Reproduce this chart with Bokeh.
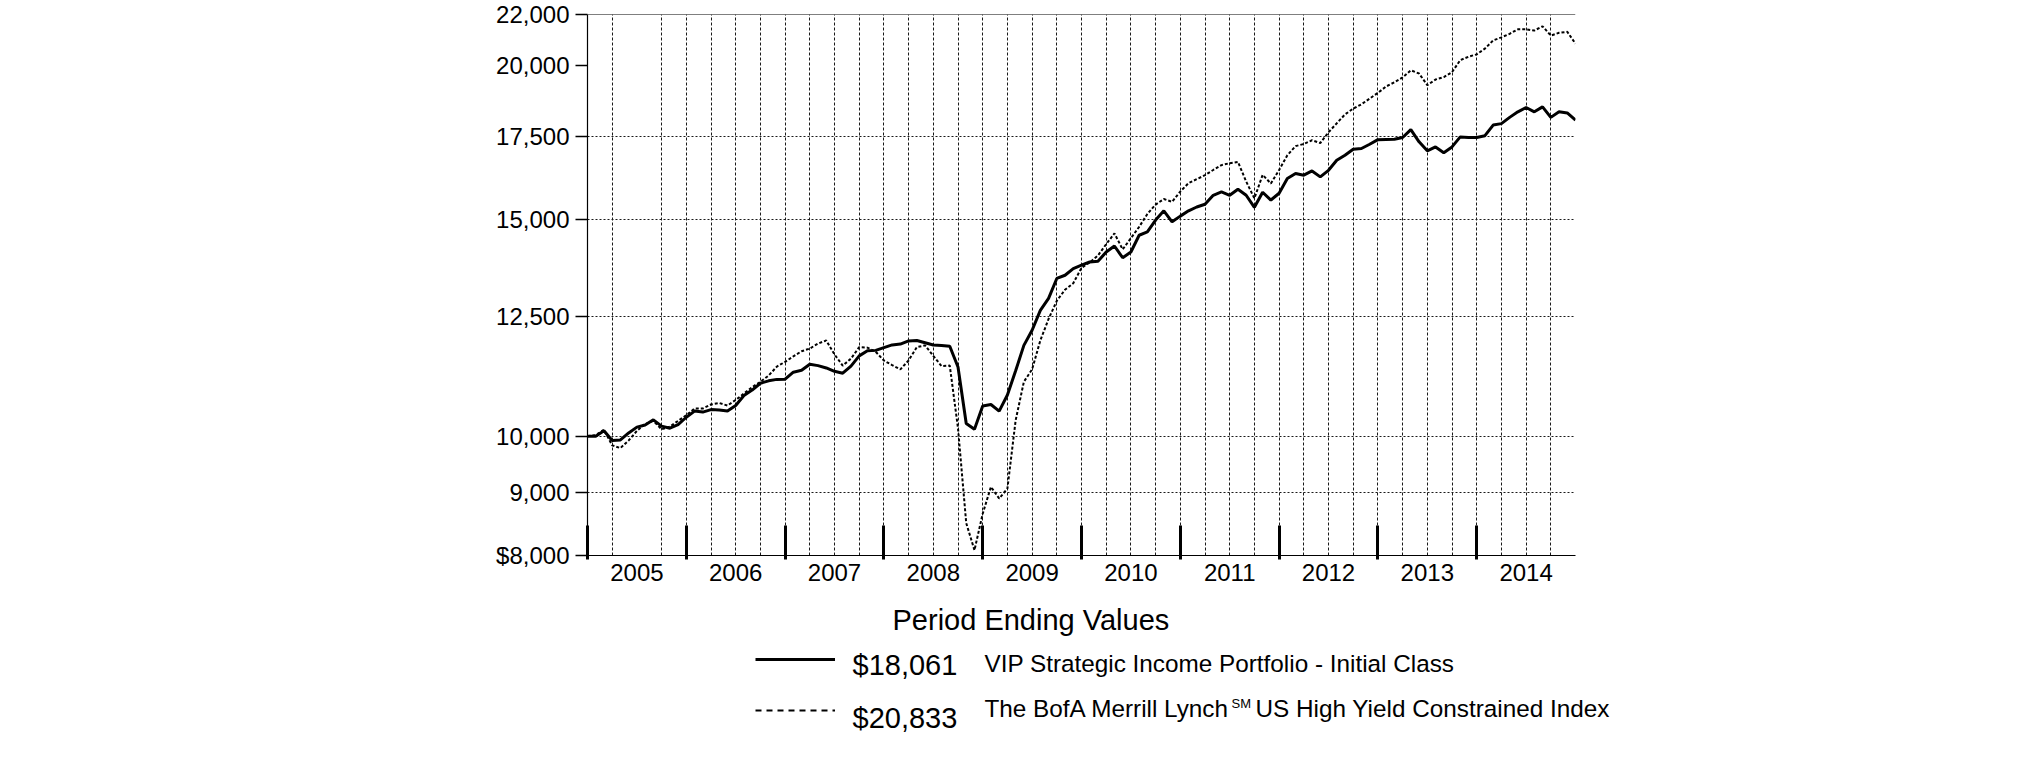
from bokeh.plotting import figure
from bokeh.layouts import column
from bokeh.models import (Range1d, FixedTicker, Span, Label, Legend, LegendItem)
from bokeh.embed import file_html
from bokeh.resources import INLINE

# ---------------- data (monthly period-ending values, Dec 2004 .. Dec 2014) ----------------
start_year = 2005
fund_name = "VIP Strategic Income Portfolio -  Initial Class"
index_name_a = "The BofA Merrill Lynch"
index_name_sup = "SM"
index_name_b = "US High Yield Constrained Index"
legend_title = "Period Ending Values"
fund_end_label = "$18,061"
index_end_label = "$20,833"

fund_values = [
    10000, 10000, 10100, 9920, 9930, 10060, 10170, 10210, 10310, 10190, 10150, 10220,
    10360, 10480, 10460, 10510, 10500, 10480, 10590, 10790, 10900, 11040, 11090, 11120,
    11125, 11270, 11310, 11440, 11410, 11360, 11290, 11250, 11400, 11620, 11730, 11740,
    11800, 11860, 11880, 11950, 11960, 11910, 11860, 11850, 11830, 11380, 10240, 10130,
    10580, 10610, 10480, 10800, 11300, 11850, 12190, 12650, 12940, 13430, 13510, 13680,
    13770, 13850, 13870, 14110, 14270, 13960, 14110, 14560, 14650, 14980, 15240, 14930,
    15090, 15240, 15350, 15430, 15690, 15790, 15690, 15870, 15690, 15340, 15780, 15550,
    15750, 16190, 16340, 16290, 16420, 16240, 16440, 16750, 16910, 17100, 17125, 17260,
    17410, 17415, 17420, 17480, 17740, 17340, 17050, 17175, 16990, 17175, 17500, 17480,
    17480, 17540, 17890, 17940, 18150, 18340, 18490, 18340, 18510, 18150, 18340, 18300,
    18061,
]

index_values = [
    10000, 10020, 10120, 9830, 9780, 9920, 10100, 10230, 10290, 10130, 10180, 10290,
    10400, 10530, 10530, 10610, 10640, 10590, 10700, 10830, 10960, 11070, 11200, 11390,
    11490, 11610, 11720, 11780, 11890, 11960, 11650, 11410, 11560, 11810, 11800, 11710,
    11520, 11420, 11330, 11520, 11810, 11850, 11620, 11400, 11410, 10150, 8500, 8080,
    8650, 9095, 8900, 9065, 10300, 11070, 11330, 11960, 12450, 12880, 13150, 13310,
    13700, 13840, 14020, 14320, 14610, 14180, 14480, 14790, 15150, 15420, 15580, 15500,
    15800, 16050, 16170, 16290, 16450, 16600, 16660, 16700, 16100, 15600, 16300, 16040,
    16450, 16910, 17200, 17270, 17390, 17300, 17650, 17950, 18250, 18450, 18600, 18800,
    19000, 19230, 19380, 19560, 19820, 19700, 19280, 19480, 19570, 19750, 20200, 20330,
    20420, 20640, 20960, 21080, 21220, 21400, 21400, 21350, 21520, 21150, 21260, 21300,
    20833,
]

year_labels = ["2005", "2006", "2007", "2008", "2009", "2010", "2011", "2012", "2013", "2014"]
y_ticks = [8000, 9000, 10000, 12500, 15000, 17500, 20000, 22000]
y_tick_labels = ["$8,000", "9,000", "10,000", "12,500", "15,000", "17,500", "20,000", "22,000"]
y_grid_values = [9000, 10000, 12500, 15000, 17500]

x = [start_year + i / 12 for i in range(len(fund_values))]

FONT = "Liberation Sans"
W = 2025
H1 = 600
H2 = 161

p = figure(width=W, height=H1,
           x_range=Range1d(start_year, start_year + len(year_labels)),
           y_range=Range1d(8000, 22000), y_axis_type="log",
           output_backend="svg", toolbar_location=None,
           min_border_left=587, min_border_right=450,
           min_border_top=14, min_border_bottom=45)
p.frame_align = False
p.outline_line_color = None
p.background_fill_color = "white"
p.border_fill_color = "white"

# top frame line
p.add_layout(Span(location=22000, dimension="width", line_color="black", line_width=1.2))

# grids
p.ygrid.ticker = FixedTicker(ticks=y_grid_values)
p.ygrid.grid_line_color = "#1a1a1a"
p.ygrid.grid_line_dash = "2 2"
p.ygrid.grid_line_width = 1
quarters = [start_year + q / 4 for q in range(1, 4 * len(year_labels)) if q != 2]
p.xgrid.ticker = FixedTicker(ticks=quarters)
p.xgrid.grid_line_color = "#1a1a1a"
p.xgrid.grid_line_dash = "3 2"
p.xgrid.grid_line_width = 1

# y axis
ya = p.yaxis[0]
ya.ticker = FixedTicker(ticks=y_ticks)
ya.major_label_overrides = {t: s for t, s in zip(y_ticks, y_tick_labels)}
ya.major_tick_in = 0
ya.major_tick_out = 12
ya.major_tick_line_width = 1.5
ya.major_tick_line_color = "black"
ya.minor_tick_line_color = None
ya.axis_line_color = "black"
ya.axis_line_width = 1.2
ya.major_label_standoff = 6
ya.major_label_text_font = FONT
ya.major_label_text_font_size = "24px"
ya.major_label_text_color = "black"

# x axis: labels centered in each year, thick ticks at year starts
xa = p.xaxis[0]
year_starts = [start_year + i for i in range(len(year_labels))]
year_mids = [start_year + i + 0.5 for i in range(len(year_labels))]
xa.ticker = FixedTicker(ticks=year_mids, minor_ticks=year_starts)
xa.major_label_overrides = {t: s for t, s in zip(year_mids, year_labels)}
xa.major_tick_line_color = None
xa.major_tick_in = 0
xa.major_tick_out = 0
xa.minor_tick_in = 30
xa.minor_tick_out = 4
xa.minor_tick_line_width = 3
xa.minor_tick_line_color = "black"
xa.axis_line_color = "black"
xa.axis_line_width = 1.2
xa.major_label_standoff = 4
xa.major_label_text_font = FONT
xa.major_label_text_font_size = "24px"
xa.major_label_text_color = "black"

# series
p.line(x, index_values, line_color="black", line_width=2, line_dash="3 2")
p.line(x, fund_values, line_color="black", line_width=3)

# ---------------- legend panel (x = page pixel, y = pixels below panel top) ----------------
p2 = figure(width=W, height=H2, x_range=Range1d(0, W), y_range=Range1d(H2, 0),
            output_backend="svg", toolbar_location=None,
            x_axis_location=None, y_axis_location=None,
            min_border_left=0, min_border_right=0, min_border_top=0, min_border_bottom=0)
p2.frame_align = False
p2.outline_line_color = None
p2.grid.visible = False
p2.background_fill_color = "white"
p2.border_fill_color = "white"

nan = float("nan")
r_fund_leg = p2.line(x=[nan], y=[nan], line_color="black", line_width=3)
r_idx_leg = p2.line(x=[nan], y=[nan], line_color="black", line_width=2, line_dash="6 5")
leg = Legend(items=[LegendItem(label=" ", renderers=[r_fund_leg]),
                    LegendItem(label=" ", renderers=[r_idx_leg])],
             location=(755, 41), orientation="vertical",
             glyph_width=80, glyph_height=20, label_height=20, label_width=1,
             label_standoff=0, label_text_font_size="1px", spacing=31,
             padding=0, margin=0, border_line_color=None, background_fill_alpha=0)
p2.add_layout(leg, "center")

def lab(text, xs, ys, size):
    p2.add_layout(Label(x=xs, y=ys, text=text,
                        text_font=FONT, text_font_size=size, text_color="black",
                        text_baseline="alphabetic", text_align="left"))

lab(legend_title, 892, 19, "29px")
lab(fund_end_label, 852, 64, "29px")
lab(fund_name, 984, 63, "24.3px")
lab(index_end_label, 852, 117, "29px")
lab(index_name_a, 984, 108, "24.3px")
lab(index_name_sup, 1231, 103, "13px")
lab(index_name_b, 1255, 108, "24.3px")

open("out.html", "w").write(file_html(column(p, p2, spacing=0), INLINE))
